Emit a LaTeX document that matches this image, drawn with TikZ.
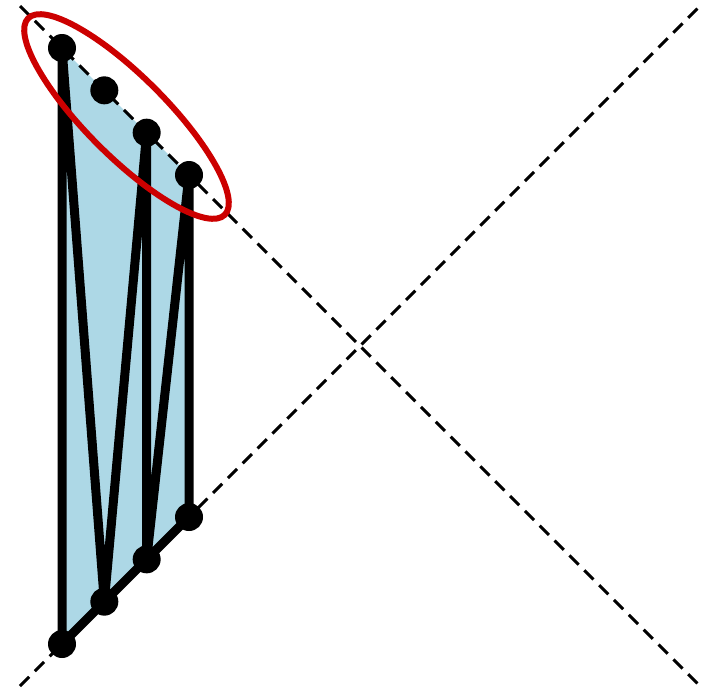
\documentclass[tikz,border=0pt]{standalone}
\usetikzlibrary{backgrounds}
\definecolor{fillblue}{HTML}{ADD8E6}
\definecolor{ringred}{HTML}{CC0000}
\begin{document}
\begin{tikzpicture}[x=1pt,y=-1pt,
  dot/.style={circle,fill=black,minimum size=28pt,inner sep=0pt},
  guide/.style={line width=3pt,dash pattern=on 13pt off 8pt},
  heavy/.style={line width=9pt,line join=round},
  ring/.style={draw=ringred,line width=6pt}]
\useasboundingbox (0,0) rectangle (703,691);
% guide line end points
\coordinate (a1) at (20,6);
\coordinate (a2) at (700,686);
\coordinate (c1) at (20,686);
\coordinate (c2) at (700,6);
% dots
\node[dot] (t1) at (62,48) {};
\node[dot] (t2) at (104.33,90.33) {};
\node[dot] (t3) at (146.67,132.67) {};
\node[dot] (t4) at (189,175) {};
\node[dot] (b1) at (62,644) {};
\node[dot] (b2) at (104.33,601.67) {};
\node[dot] (b3) at (146.67,559.33) {};
\node[dot] (b4) at (189,517) {};
\begin{pgfonlayer}{background}
  \fill[fillblue] (t1.center) -- (t4.center) -- (b4.center) -- (b1.center) -- cycle;
  \draw[guide] (a1) -- (a2);
  \draw[guide] (c1) -- (c2);
  \draw[heavy] (b1.center) -- (t1.center) -- (b2.center) -- (t3.center)
     -- (b3.center) -- (t4.center) -- (b4.center);
  \draw[heavy] (b1.center) -- (b4.center);
\end{pgfonlayer}
% red ring around the top dots
\draw[ring, rotate around={-45:(126.5,116.5)}] (126.5,116.5) ellipse [x radius=139pt, y radius=40pt];
\end{tikzpicture}
\end{document}
